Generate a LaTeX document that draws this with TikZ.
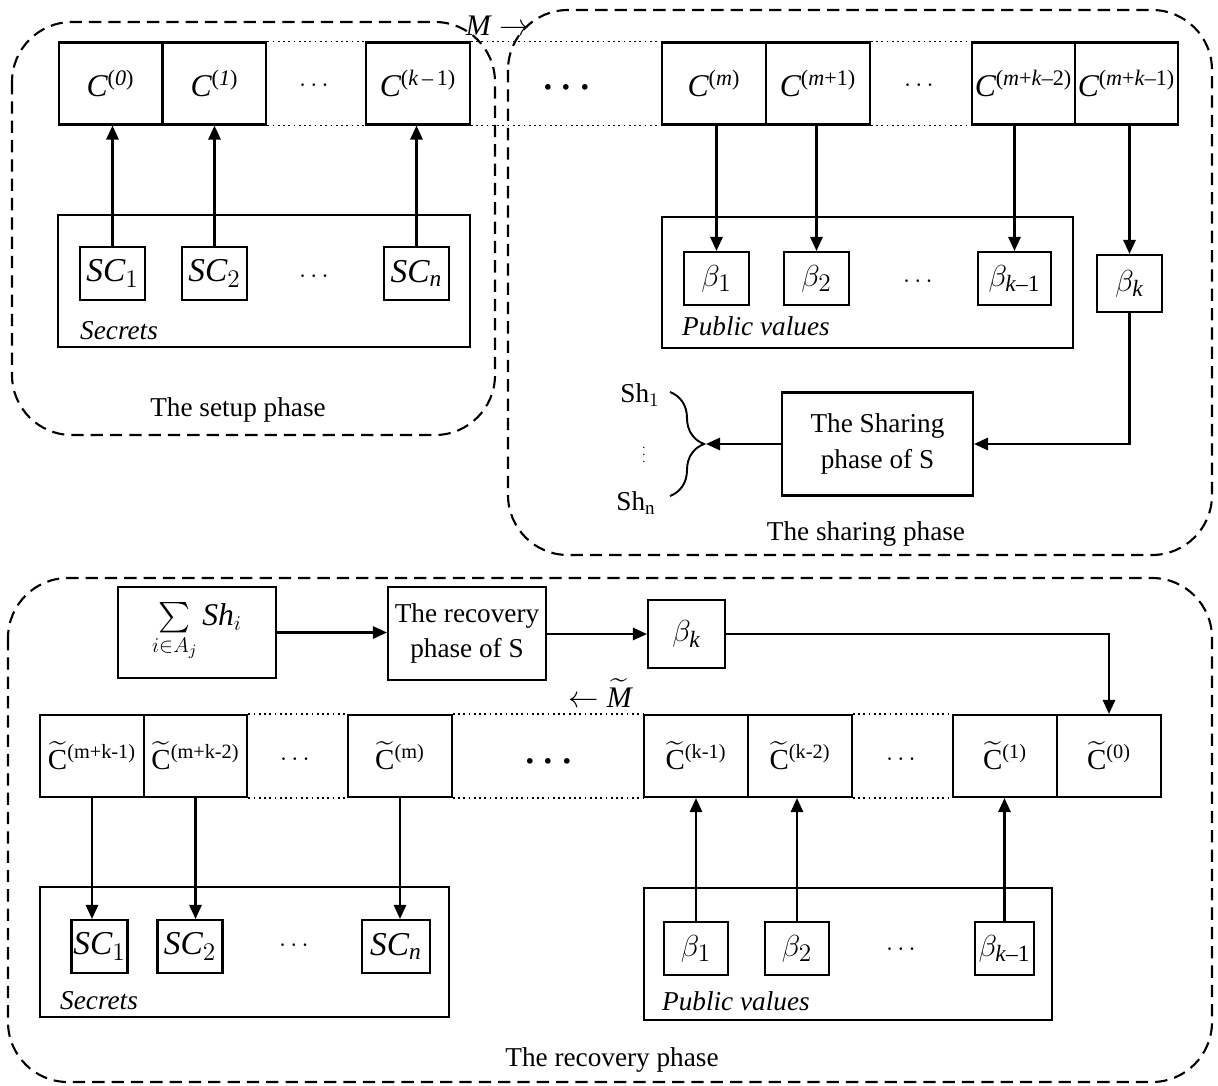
\documentclass[tikz,border=0pt]{standalone}
\usepackage{amsmath}
\usepackage{fontspec}
\setmainfont{Liberation Serif}
\usetikzlibrary{arrows.meta,decorations.pathreplacing}
\newcommand{\mi}[1]{\mathit{#1}}
\newcommand{\tc}[1]{$\widetilde{\mathrm{C}}^{\text{(#1)}}$}
\newcommand{\ic}[1]{$\mi{C}^{\text{(\textit{#1})}}$}
\begin{document}
\begin{tikzpicture}[x=0.02cm,y=-0.02cm,
    cell/.style={draw,line width=1.2pt,minimum width=2.07cm,minimum height=1.64cm,inner sep=0pt,font=\fontsize{18}{22}\selectfont},
    tcell/.style={cell,font=\fontsize{16.5}{20}\selectfont},
    sbox/.style={draw,line width=1.2pt,minimum width=1.3cm,minimum height=1.06cm,inner sep=0pt,font=\fontsize{19}{23}\selectfont},
    frame/.style={draw,line width=1.2pt,inner sep=0pt},
    phase/.style={draw,line width=1.2pt,dash pattern=on 7pt off 4pt,rounded corners=1.2cm},
    arr/.style={-{Triangle[length=8pt,width=7pt]},line width=1.2pt},
    dotrow/.style={dotted,line width=1pt},
    every node/.style={font=\fontsize{15.5}{18}\selectfont}]
  \useasboundingbox (0,0) rectangle (1218,1086);
  % phases
  \draw[phase] (12,22) rectangle (495,435);
  \draw[phase] (508,10) rectangle (1212,555);
  \draw[phase] (8,578) rectangle (1212,1082);
  \node (setup) at (238,410) {The setup phase};
  \node (sharing) at (866,534) {The sharing phase};
  \node (recovery) at (612,1060) {The recovery phase};
  \node (mright) at (498,26) {\fontsize{17}{20}\selectfont\textit{M} $\rightarrow$};
  % top row
  \node[cell] (c0) at (110.5,83.5) {\ic{0}};
  \node[cell] (c1) at (214.5,83.5) {\ic{1}};
  \node[cell] (ck1) at (418,83.5) {$\mi{C}^{\text{(\textit{k}\,–\,1)}}$};
  \node[cell] (cm) at (714,83.5) {\ic{m}};
  \node[cell] (cm1) at (818,83.5) {$\mi{C}^{\text{(\textit{m}+1)}}$};
  \node[cell] (cmk2) at (1023.5,83.5) {$\mi{C}^{\text{(\textit{m}+\textit{k}–2)}}$};
  \node[cell] (cmk1) at (1126.5,83.5) {$\mi{C}^{\text{(\textit{m}+\textit{k}–1)}}$};
  \draw[dotrow] (c1.north east) -- (ck1.north west) (c1.south east) -- (ck1.south west);
  \draw[dotrow] (ck1.north east) -- (cm.north west) (ck1.south east) -- (cm.south west);
  \draw[dotrow] (cm1.north east) -- (cmk2.north west) (cm1.south east) -- (cmk2.south west);
  \node (dt1) at (316,86) {$\cdots$};
  \node (dt2) at (570,88) {\fontsize{22}{22}\selectfont$\boldsymbol{\cdots}$};
  \node (dt3) at (921,86) {$\cdots$};
  % secrets (setup)
  \node[frame,minimum width=8.24cm,minimum height=2.64cm] (sec) at (264,281) {};
  \node[sbox] (sc1) at (112.5,273.5) {$\mi{SC}_1$};
  \node[sbox] (sc2) at (214.5,273.5) {$\mi{SC}_2$};
  \node[sbox] (scn) at (416.5,273.5) {$\mi{SC}_\mi{n}$};
  \node (dt4) at (316,277) {$\cdots$};
  \node[anchor=west] (sectxt) at (74,331) {\textit{Secrets}};
  \draw[arr] (sc1.north) -- (sc1.north |- c0.south);
  \draw[arr] (sc2.north) -- (sc2.north |- c1.south);
  \draw[arr] (scn.north) -- (scn.north |- ck1.south);
  % public values (sharing)
  \node[frame,minimum width=8.22cm,minimum height=2.62cm] (pub) at (867.5,282.5) {};
  \node[sbox] (b1) at (716.5,278.5) {$\beta_1$};
  \node[sbox] (b2) at (816.5,278.5) {$\beta_2$};
  \node[sbox,minimum width=1.46cm] (bk1) at (1014.5,278.5) {$\beta_{\text{\textit{k}–1}}$};
  \node[sbox,minimum height=1.14cm] (bk) at (1129.5,283.5) {$\beta_\mi{k}$};
  \node (dt5) at (920,282) {$\cdots$};
  \node[anchor=west] (pubtxt) at (676,326) {\textit{Public values}};
  \draw[arr] (cm.south -| b1.north) -- (b1.north);
  \draw[arr] (cm1.south -| b2.north) -- (b2.north);
  \draw[arr] (cmk2.south -| bk1.north) -- (bk1.north);
  \draw[arr] (cmk1.south -| bk.north) -- (bk.north);
  \node[frame,minimum width=3.82cm,minimum height=2.06cm,align=center] (share) at (877.5,444) {The Sharing\\[2pt]phase of S};
  \draw[arr] (bk.south) |- (share.east);
  \coordinate (tip) at (706,444);
  \draw[line width=1.1pt,decorate,decoration={brace,amplitude=0.68cm}] (670,392) -- (670,496);
  \draw[arr] (share.west) -- (tip);
  \node (sh1) at (640,395) {Sh$_1$};
  \node[font=\scriptsize] (shv) at (644,450) {$\vdots$};
  \node (shn) at (636,503) {Sh$_\mathrm{n}$};
  % recovery
  \node[frame,minimum width=3.16cm,minimum height=1.82cm,font=\fontsize{18}{20}\selectfont] (sum) at (197,632.5) {$\sum\limits_{i\in A_j}\mi{Sh}_i$};
  \node[frame,minimum width=3.16cm,minimum height=1.86cm,align=center] (recv) at (467,633.5) {The recovery\\[2pt]phase of S};
  \node[frame,minimum width=1.54cm,minimum height=1.36cm,font=\fontsize{19}{23}\selectfont] (bkr) at (686.5,634) {$\beta_\mi{k}$};
  \node (mleft) at (600,693) {\fontsize{17}{20}\selectfont$\leftarrow\widetilde{\mi{M}}$};
  % bottom row
  \node[tcell] (t0) at (1109,756) {\tc{0}};
  \node[tcell] (t1) at (1005,756) {\tc{1}};
  \node[tcell] (tk2) at (800,756) {\tc{k-2}};
  \node[tcell] (tk1) at (696,756) {\tc{k-1}};
  \node[tcell] (tm) at (400,756) {\tc{m}};
  \node[tcell] (tmk2) at (195.5,756) {\tc{m+k-2}};
  \node[tcell] (tmk1) at (92,756) {\tc{m+k-1}};
  \draw[dotrow] (tmk2.north east) -- (tm.north west) (tmk2.south east) -- (tm.south west);
  \draw[dotrow] (tm.north east) -- (tk1.north west) (tm.south east) -- (tk1.south west);
  \draw[dotrow] (tk2.north east) -- (t1.north west) (tk2.south east) -- (t1.south west);
  \node (dt6) at (297,760) {$\cdots$};
  \node (dt7) at (552,762) {\fontsize{22}{22}\selectfont$\boldsymbol{\cdots}$};
  \node (dt8) at (903,760) {$\cdots$};
  \draw[arr] (sum.east) -- (recv.west |- sum.east);
  \draw[arr] (recv.east |- bkr.west) -- (bkr.west);
  \draw[arr] (bkr.east) -| (t0.north);
  % secrets (recovery)
  \node[frame,minimum width=8.18cm,minimum height=2.6cm] (secb) at (244.5,952) {};
  \node[sbox,minimum width=1.12cm] (sb1) at (99.5,946.5) {$\mi{SC}_1$};
  \node[sbox] (sb2) at (190,946.5) {$\mi{SC}_2$};
  \node[sbox,minimum width=1.36cm] (sbn) at (396,946.5) {$\mi{SC}_\mi{n}$};
  \node (dt9) at (296,946) {$\cdots$};
  \node[anchor=west] (secbtxt) at (54,1001) {\textit{Secrets}};
  \draw[arr] (tmk1.south) -- (tmk1.south |- sb1.north);
  \draw[arr] (tmk2.south) -- (tmk2.south |- sb2.north);
  \draw[arr] (tm.south) -- (tm.south |- sbn.north);
  % public values (recovery)
  \node[frame,minimum width=8.16cm,minimum height=2.64cm] (pubb) at (848,954) {};
  \node[sbox,minimum width=1.28cm] (pb1) at (696,948.5) {$\beta_1$};
  \node[sbox,minimum width=1.28cm] (pb2) at (797,948.5) {$\beta_2$};
  \node[sbox,minimum width=1.18cm] (pbk1) at (1004.5,948.5) {$\beta_{\text{\textit{k}–1}}$};
  \node (dt10) at (903,950) {$\cdots$};
  \node[anchor=west] (pubbtxt) at (656,1001) {\textit{Public values}};
  \draw[arr] (pb1.north) -- (pb1.north |- tk1.south);
  \draw[arr] (pb2.north) -- (pb2.north |- tk2.south);
  \draw[arr] (pbk1.north) -- (pbk1.north |- t1.south);
\end{tikzpicture}
\end{document}
